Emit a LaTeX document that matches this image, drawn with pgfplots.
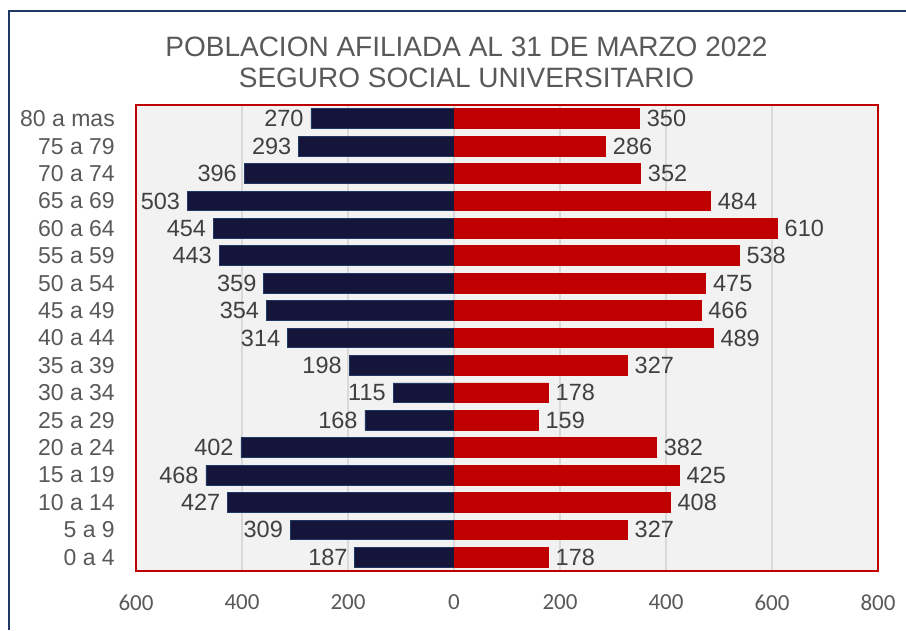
\documentclass[border=0pt]{standalone}
\usepackage{pgfplots}
\pgfplotsset{compat=1.18}
\usepackage{pgfplotstable}
\usepackage{fontspec}
\setmainfont{Liberation Sans}
\newfontfamily\carlito{Carlito}
\definecolor{navybar}{HTML}{15153B}
\definecolor{navyedge}{HTML}{1F3864}
\definecolor{redbar}{HTML}{C00000}
\definecolor{txt}{HTML}{595959}
\definecolor{lbl}{HTML}{404040}
\definecolor{gridc}{HTML}{D9D9D9}
\definecolor{bgc}{HTML}{F2F2F2}
\definecolor{frame}{HTML}{1F3864}
\pgfplotstableread{
y m f
0 187 178
1 309 327
2 427 408
3 468 425
4 402 382
5 168 159
6 115 178
7 198 327
8 314 489
9 354 466
10 359 475
11 443 538
12 454 610
13 503 484
14 396 352
15 293 286
16 270 350
}\pyr
\begin{document}
\begin{tikzpicture}
\path[use as bounding box] (0,0) rectangle (906pt,630pt);
\draw[frame, line width=2pt] (9pt,0) -- (9pt,619pt) -- (906pt,619pt);
\node[txt, align=center, font=\fontsize{28}{31}\selectfont] at (466.5pt,567.5pt) {POBLACION AFILIADA AL 31 DE MARZO 2022\\SEGURO SOCIAL UNIVERSITARIO};
\begin{axis}[
  at={(136pt,59pt)}, anchor=south west,
  width=742pt, height=466pt, scale only axis,
  /pgf/number format/assume math mode=true,
  xmin=-600, xmax=800, ymin=-0.5, ymax=16.5,
  xtick={-600,-400,-200,0,200,400,600,800},
  xticklabels={600,400,200,0,200,400,600,800},
  ytick={0,...,16},
  yticklabels={0 a 4,5 a 9,10 a 14,15 a 19,20 a 24,25 a 29,30 a 34,35 a 39,40 a 44,45 a 49,50 a 54,55 a 59,60 a 64,65 a 69,70 a 74,75 a 79,80 a mas},
  major tick length=0pt,
  xmajorgrids, major grid style={gridc, line width=1.5pt},
  axis line style={redbar, line width=1.8pt},
  axis background/.style={fill=bgc},
  xticklabel style={font=\carlito\fontsize{23}{27}\selectfont, text=txt, yshift=-20pt},
  yticklabel style={font=\fontsize{23}{27}\selectfont, text=txt, inner xsep=0pt, xshift=-21pt},
  bar width=0.72,
  point meta=explicit,
]
\addplot[xbar, bar shift=0pt, fill=navybar, draw=navyedge, line width=0.8pt,
  nodes near coords, nodes near coords align=center,
  every node near coord/.append style={font=\fontsize{23.5}{27}\selectfont, text=lbl, inner xsep=7pt, anchor=east}]
  table[x expr=-\thisrow{m}, y=y, meta=m] {\pyr};
\addplot[xbar, bar shift=0pt, fill=redbar, draw=redbar, line width=0.8pt,
  nodes near coords, nodes near coords align=center,
  every node near coord/.append style={font=\fontsize{23.5}{27}\selectfont, text=lbl, inner xsep=7pt, anchor=west}]
  table[x=f, y=y, meta=f] {\pyr};
\end{axis}
\end{tikzpicture}
\end{document}
